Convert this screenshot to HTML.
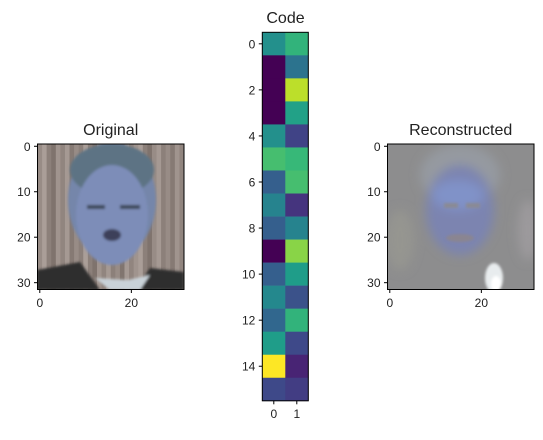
<!DOCTYPE html>
<html><head><meta charset="utf-8"><style>
body{margin:0;background:#fff}
text{font-family:"Liberation Sans",sans-serif;fill:#222}
</style></head><body>
<svg id="fig" width="543" height="435" viewBox="0 0 543 435" xmlns="http://www.w3.org/2000/svg">
<defs>
<filter id="blur1"><feGaussianBlur stdDeviation="1.2"/></filter>
<filter id="blur4"><feGaussianBlur stdDeviation="5"/></filter>
<clipPath id="c1"><rect x="37.5" y="144" width="146.5" height="145.5"/></clipPath>
<clipPath id="c2"><rect x="387.5" y="144" width="146.5" height="145.5"/></clipPath>
</defs>
<g>
<text x="110.7" y="135" font-size="16" text-anchor="middle">Original</text>
<g clip-path="url(#c1)">
<rect x="37.5" y="144" width="147" height="146" fill="#8e807b"/>
<g id="stripes"></g>
<g filter="url(#blur1)">
<ellipse cx="112" cy="200" rx="44" ry="58" fill="#7586aa"/>
<ellipse cx="112" cy="170" rx="42" ry="26" fill="#5d7384"/>
<ellipse cx="112" cy="215" rx="36" ry="50" fill="#7d8db8"/>
<path d="M37 270 L80 262 L100 290 L37 290Z" fill="#2f2d2e"/>
<path d="M184 272 L150 268 L135 290 L184 290Z" fill="#2f2d2e"/>
<path d="M95 278 L110 290 L140 290 L150 275 L128 280Z" fill="#c9d2d8"/>
<ellipse cx="112" cy="235" rx="9" ry="6" fill="#3d3f5a"/>
<rect x="87" y="205" width="18" height="4" fill="#3d4658"/>
<rect x="120" y="205" width="20" height="4" fill="#3d4658"/>
</g>
</g>
<rect x="37.5" y="144" width="146.5" height="145.5" fill="none" stroke="#000" stroke-width="1"/>
<g id="ax1" font-size="12"></g>
</g>
<g>
<text x="285.5" y="23" font-size="16" text-anchor="middle">Code</text>
<g id="heat"></g>
<rect x="262.3" y="32.3" width="46" height="368.5" fill="none" stroke="#000" stroke-width="1"/>
<g id="ax2" font-size="12"></g>
</g>
<g>
<text x="460.7" y="135" font-size="16" text-anchor="middle">Reconstructed</text>
<g clip-path="url(#c2)">
<rect x="387.5" y="144" width="147" height="146" fill="#8d8d8e"/>
<g filter="url(#blur4)">
<ellipse cx="460" cy="175" rx="40" ry="30" fill="#959aa0"/>
<ellipse cx="460" cy="210" rx="34" ry="45" fill="#7b84b0"/>
<ellipse cx="458" cy="195" rx="26" ry="15" fill="#8092c8"/>
<ellipse cx="528" cy="230" rx="10" ry="30" fill="#9c9a9c"/>
<ellipse cx="400" cy="240" rx="14" ry="30" fill="#959590"/>
</g>
<g filter="url(#blur1)">
<rect x="444" y="203" width="14" height="5" fill="#8a8a94"/>
<rect x="466" y="203" width="14" height="5" fill="#8a8a94"/>
<ellipse cx="460" cy="238" rx="14" ry="4" fill="#8a8591"/>
<ellipse cx="494" cy="278" rx="9" ry="15" fill="#e8ecee"/>
<ellipse cx="496" cy="284" rx="5" ry="8" fill="#ffffff"/>
</g>
</g>
<rect x="387.5" y="144" width="146.5" height="145.5" fill="none" stroke="#000" stroke-width="1"/>
<g id="ax3" font-size="12"></g>
</g>
</svg>
<script>
const codeCol0=[0.5,0,0,0,0.5,0.7,0.3,0.45,0.3,0,0.3,0.47,0.33,0.55,1.0,0.22];
const codeCol1=[0.65,0.38,0.9,0.57,0.2,0.67,0.7,0.15,0.45,0.82,0.55,0.25,0.65,0.22,0.1,0.18];
const codeYTicks=[0,2,4,6,8,10,12,14];
const codeXTicks=[0,1];
const imgTicksX=[0,20];
const imgTicksY=[0,10,20,30];
const stripeTones=[0.55,0.62,0.5,0.45,0.58,0.52,0.6,0.48,0.55,0.5,0.62,0.5,0.45,0.58,0.52,0.6,0.5,0.55,0.46,0.6,0.52,0.58,0.62,0.5,0.45,0.55,0.6,0.5,0.55,0.48,0.58,0.52];
const NS="http://www.w3.org/2000/svg";
function mk(t,a,p){const e=document.createElementNS(NS,t);for(const k in a)e.setAttribute(k,a[k]);p.appendChild(e);return e;}
const vs=[[68,1,84],[72,40,120],[62,74,137],[49,104,142],[38,130,142],[31,158,137],[53,183,121],[110,206,88],[181,222,43],[253,231,37]];
function viridis(v){v=Math.max(0,Math.min(1,v))*9;const i=Math.min(8,Math.floor(v)),f=v-i;const c=vs[i].map((a,j)=>Math.round(a+(vs[i+1][j]-a)*f));return `rgb(${c})`;}
// heatmap
const hx0=262.3,hy0=32.3,cw=23,ch=23.03;
const hx=c=>hx0+c*cw, hy=r=>hy0+r*ch;
const heat=document.getElementById('heat');
[codeCol0,codeCol1].forEach((col,c)=>col.forEach((v,r)=>{
const e=mk('rect',{x:hx(c),y:hy(r),width:cw+0.3,height:ch+0.3,fill:viridis(v)},heat);


}));
const ax2=document.getElementById('ax2');
codeYTicks.forEach(t=>{const y=hy(t+0.5);mk('line',{x1:hx0,x2:hx0-3.5,y1:y,y2:y,stroke:'#000'},ax2);const tx=mk('text',{x:hx0-7,y:y+4.5,'text-anchor':'end'},ax2);tx.textContent=t;});
codeXTicks.forEach(t=>{const x=hx(t+0.5);mk('line',{x1:x,x2:x,y1:400.8,y2:404.3,stroke:'#000'},ax2);const tx=mk('text',{x:x,y:418,'text-anchor':'middle'},ax2);tx.textContent=t;});
// stripes
const st=document.getElementById('stripes');const px=146.5/32;
stripeTones.forEach((v,i)=>{const g=Math.round(v*255);const e=mk('rect',{x:37.5+i*px,y:144,width:px+0.2,height:146,fill:`rgb(${g+12},${g},${g-6})`},st);});
function imgAxes(id,x0){const ax=document.getElementById(id);
imgTicksX.forEach(t=>{const x=x0+(t+0.5)*px;mk('line',{x1:x,x2:x,y1:289.5,y2:293,stroke:'#000'},ax);const tx=mk('text',{x:x,y:307,'text-anchor':'middle'},ax);tx.textContent=t;});
imgTicksY.forEach(t=>{const y=144+(t+0.5)*145.5/32;mk('line',{x1:x0,x2:x0-3.5,y1:y,y2:y,stroke:'#000'},ax);const tx=mk('text',{x:x0-7,y:y+4.5,'text-anchor':'end'},ax);tx.textContent=t;});}
imgAxes('ax1',37.5);imgAxes('ax3',387.5);
</script>
</body></html>
